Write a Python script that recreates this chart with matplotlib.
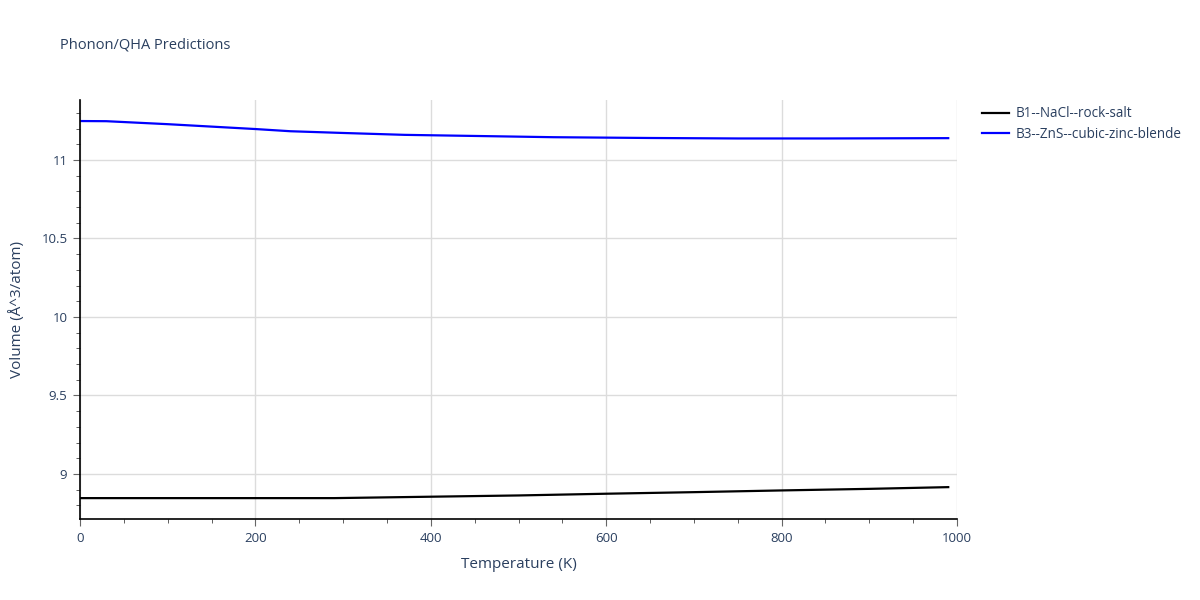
import matplotlib
matplotlib.use('Agg')
import matplotlib.pyplot as plt
from matplotlib.ticker import MultipleLocator

plt.rcParams['font.family'] = ['Open Sans', 'DejaVu Sans']

# Data
temp_b1 = [0, 100, 200, 290, 400, 500, 600, 700, 800, 900, 990]
vol_b1 = [8.846, 8.846, 8.846, 8.846, 8.855, 8.863, 8.874, 8.884, 8.895, 8.905, 8.916]

temp_b3 = [0, 30, 100, 200, 240, 300, 370, 450, 540, 650, 750, 850, 990]
vol_b3 = [11.248, 11.247, 11.228, 11.197, 11.183, 11.172, 11.160, 11.153,
          11.145, 11.140, 11.137, 11.137, 11.139]

labels = ['B1--NaCl--rock-salt', 'B3--ZnS--cubic-zinc-blende']
txt = '#2a3f5f'

fig = plt.figure(figsize=(12, 6), dpi=100)
ax = fig.add_axes([80/1200, 1 - 519/600, 877/1200, 419/600])

ax.plot(temp_b1, vol_b1, color='black', linewidth=1.6, label=labels[0])
ax.plot(temp_b3, vol_b3, color='blue', linewidth=1.6, label=labels[1])

ax.set_xlim(0, 1000)
ax.set_ylim(8.713, 11.382)
ax.xaxis.set_major_locator(MultipleLocator(200))
ax.xaxis.set_minor_locator(MultipleLocator(50))
ax.yaxis.set_minor_locator(MultipleLocator(0.1))
ax.set_yticks([9, 9.5, 10, 10.5, 11])
ax.set_yticklabels(['9', '9.5', '10', '10.5', '11'])

ax.grid(True, which='major', color='#dcdcdc', linewidth=1)
ax.set_axisbelow(True)
for s in ['top', 'right']:
    ax.spines[s].set_visible(False)
for s in ['left', 'bottom']:
    ax.spines[s].set_color('black')
    ax.spines[s].set_linewidth(1.2)

ax.tick_params(which='major', length=5, color='#666666', labelsize=9.5,
               labelcolor=txt, pad=4)
ax.tick_params(which='minor', length=3, color='#444444')

ax.set_xlabel('Temperature (K)', fontsize=11, color=txt, labelpad=9)
ax.set_ylabel('Volume (Å^3/atom)', fontsize=11, color=txt, labelpad=12)

fig.text(60/1200, 1 - 45/600, 'Phonon/QHA Predictions', fontsize=10.5,
         color=txt, va='center', ha='left')

ax.legend(loc='upper left', bbox_to_anchor=(1.0285, 0.985), frameon=False,
          fontsize=9.75, labelcolor=txt, handlelength=2.0, handletextpad=0.45,
          borderaxespad=0, borderpad=0, labelspacing=0.42)

fig.savefig('out.png', dpi=100, facecolor='white')
